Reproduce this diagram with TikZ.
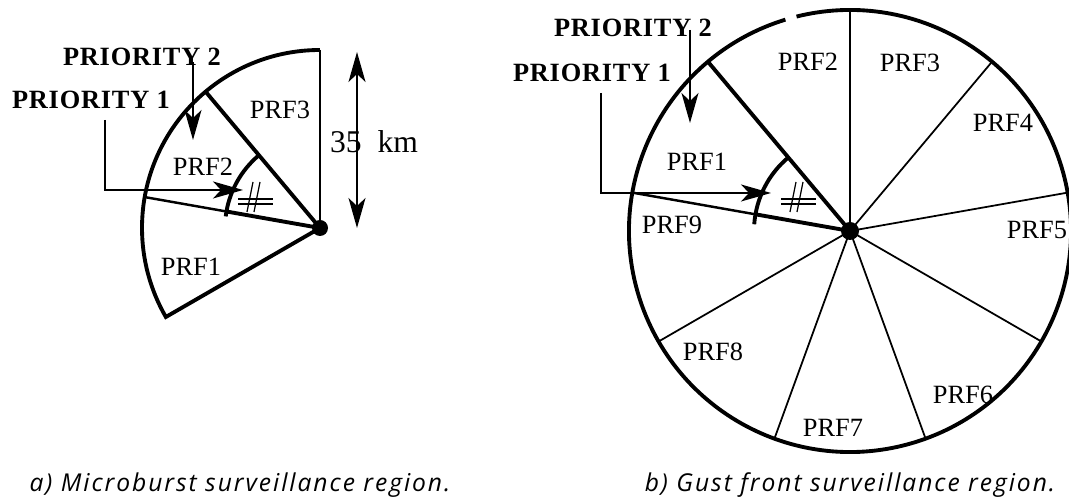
\documentclass[tikz,border=0pt]{standalone}
\usepackage{fontspec}
\setmainfont{Liberation Serif}
\newfontfamily\prifont[LetterSpace=3]{Liberation Serif}
\newfontfamily\capfont[LetterSpace=8]{Open Sans}
\usetikzlibrary{arrows.meta}

\begin{document}
\begin{tikzpicture}[x=0.2mm,y=0.2mm,
   heavy/.style={line width=2.2pt},
   medium/.style={line width=1.4pt},
   light/.style={line width=1pt},
   pointer/.style={line width=0.8pt,-{Stealth[length=6mm,width=3.4mm,inset=1.6mm]}},
   sector/.style={font=\fontsize{15}{18}\selectfont},
   priority/.style={font=\prifont\bfseries\fontsize{15}{18}\selectfont},
   caption/.style={font=\capfont\itshape\fontsize{14}{16}\selectfont}]
   \fill[white] (0,0) rectangle (1069,499);
   \useasboundingbox (0,0) rectangle (1069,499);
   % a) microburst region
   \coordinate (lc) at (320,271);
   \draw[line width=1.7pt] (lc) -- ++(90:178);
   \draw[heavy] (lc) ++(90:178) arc[start angle=90, end angle=210, radius=178] -- (lc);
   \draw[heavy] (lc) -- ++(130:178);
   \draw[medium] (lc) -- ++(170:178);
   \draw[heavy] (lc) -- ++(170:95);
   \draw[heavy] (lc) ++(173:95) arc[start angle=173, end angle=130, radius=95];
   \fill (lc) circle[radius=8];
   \node[sector] (a1) at (191,232) {PRF1};
   \node[sector] (a2) at (203,332) {PRF2};
   \node[sector] (a3) at (280,389) {PRF3};
   \node[priority] (ap2) at (142,442) {PRIORITY 2};
   \node[priority] (ap1) at (91,399) {PRIORITY 1};
   \coordinate (ap2s) at (193,437);
   \coordinate (ap2e) at (193,359);
   \coordinate (ap1s) at (105,379);
   \coordinate (ap1m) at (105,309);
   \coordinate (ap1e) at (243,309);
   \draw[pointer] (ap2s) -- (ap2e);
   \draw[pointer] (ap1s) -- (ap1m) -- (ap1e);
   % range arrow
   \node[font=\fontsize{18}{21}\selectfont] (akm) at (374,357) {35\enspace km};
   \coordinate (kmt) at (357,447);
   \coordinate (kmb) at (357,271);
   \draw[line width=0.8pt,{Stealth[length=6mm,width=3.4mm,inset=1.6mm]}-{Stealth[length=6mm,width=3.4mm,inset=1.6mm]}] (kmt) -- (kmb);
   % b) gust front region
   \coordinate (rc) at (850,268);
   \draw[heavy] (rc) ++(107:221) arc[start angle=107, end angle=464, radius=221];
   \foreach \a in {90,50,10,-30,-70,-110,-150}
      \draw[light] (rc) -- ++(\a:221);
   \draw[heavy] (rc) -- ++(130:221);
   \draw[medium] (rc) -- ++(170:221);
   \draw[heavy] (rc) -- ++(170:96);
   \draw[heavy] (rc) ++(176:96) arc[start angle=176, end angle=130, radius=96];
   \fill (rc) circle[radius=9];
   \node[sector] (b1) at (697,337) {PRF1};
   \node[sector] (b2) at (808,437) {PRF2};
   \node[sector] (b3) at (910,436) {PRF3};
   \node[sector] (b4) at (1003,376) {PRF4};
   \node[sector] (b5) at (1037,269) {PRF5};
   \node[sector] (b6) at (963,104) {PRF6};
   \node[sector] (b7) at (833,71) {PRF7};
   \node[sector] (b8) at (713,147) {PRF8};
   \node[sector] (b9) at (672,274) {PRF9};
   \node[priority] (bp2) at (633,471) {PRIORITY 2};
   \node[priority] (bp1) at (592,426) {PRIORITY 1};
   \coordinate (bp2s) at (690,469);
   \coordinate (bp2e) at (690,376);
   \coordinate (bp1s) at (601,406);
   \coordinate (bp1m) at (601,306);
   \coordinate (bp1e) at (771,306);
   \draw[pointer] (bp2s) -- (bp2e);
   \draw[pointer] (bp1s) -- (bp1m) -- (bp1e);
   % angle marks
   \coordinate (ha) at (255,302);
   \coordinate (hb) at (798,302);
   \foreach \c in {ha,hb} {
      \draw[line width=0.7pt] (\c) ++(-17,-2) -- ++(35,0);
      \draw[line width=0.7pt] (\c) ++(-17,-7) -- ++(35,0);
      \draw[line width=0.7pt] (\c) ++(-8,-15) -- ++(6,30);
      \draw[line width=0.7pt] (\c) ++(-1,-15) -- ++(6,30);
   }
   % captions
   \node[caption] (acap) at (240,14) {a) Microburst surveillance region.};
   \node[caption] (bcap) at (850,14) {b) Gust front surveillance region.};
\end{tikzpicture}
\end{document}
